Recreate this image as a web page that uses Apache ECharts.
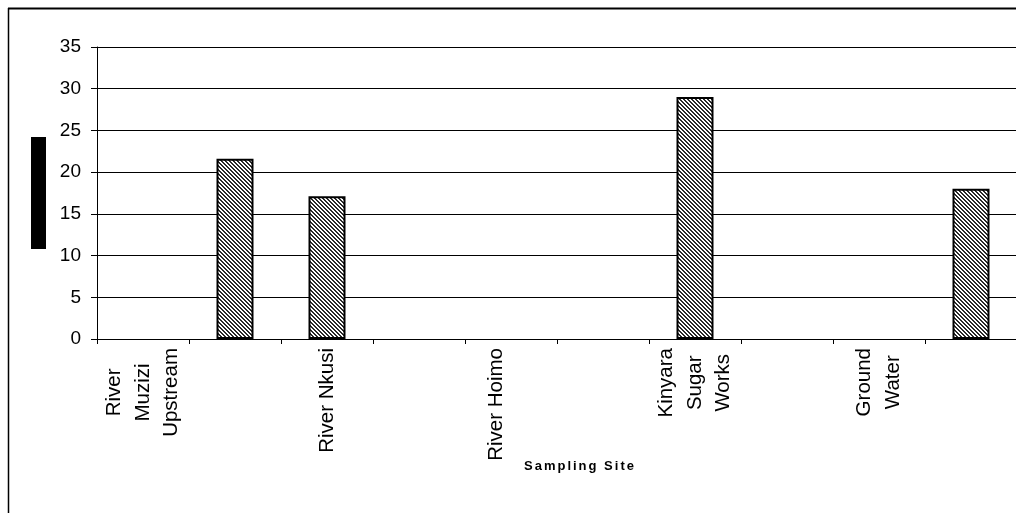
<!DOCTYPE html>
<html>
<head>
<meta charset="utf-8">
<script src="https://cdn.jsdelivr.net/npm/echarts@6/dist/echarts.min.js"></script>
<style>
  html, body { margin: 0; padding: 0; background: #fff; }
  #chart { width: 1016px; height: 513px; }
</style>
</head>
<body>
<div id="chart"></div>
<script>
// Sampling sites (labels are shown on every other slot)
const categories = [
  'River\nMuzizi\nUpstream', '', 'River Nkusi', '', 'River Hoimo\n ',
  '', 'Kinyara\nSugar\nWorks', '', 'Ground\nWater', ''
];
// Measured values per slot (null = no bar)
const values = [null, 21.6, 17.1, null, null, null, 29.0, null, null, 18.0];
const yTicks = { min: 0, max: 35, interval: 5 };
const xTitle = 'Sampling Site';

const FONT = "'Liberation Sans', Arial, sans-serif";

// Diagonal hatch fill for the bars
function hatchPattern() {
  const c = document.createElement('canvas');
  c.width = 4; c.height = 4;
  const ctx = c.getContext('2d');
  ctx.fillStyle = '#ffffff';
  ctx.fillRect(0, 0, 4, 4);
  ctx.fillStyle = '#2a2a2a';
  for (let y = 0; y < 4; y++) {
    for (let x = 0; x < 4; x++) {
      const d = ((x - y) % 4 + 4) % 4;
      if (d === 0 || d === 1) ctx.fillRect(x, y, 1, 1);
    }
  }
  return { image: c, repeat: 'repeat' };
}

// Letter-spaced title built from rich text fragments
function spaced(text) {
  return text.split('').map(ch => '{s|' + ch + '}').join('');
}

const chart = echarts.init(document.getElementById('chart'), null, { renderer: 'canvas' });

chart.setOption({
  animation: false,
  backgroundColor: '#ffffff',
  grid: { left: 97, right: -1, top: 47, bottom: 174, containLabel: false, outerBoundsMode: 'none' },
  xAxis: {
    type: 'category',
    data: categories,
    boundaryGap: true,
    axisLine: { show: true, lineStyle: { color: '#000', width: 1 } },
    axisTick: { show: true, length: 5, interval: 0, alignWithLabel: false, lineStyle: { color: '#000' } },
    axisLabel: {
      interval: 0,
      rotate: 90,
      margin: 9,
      color: '#000',
      fontFamily: FONT,
      fontSize: 20.5,
      lineHeight: 28.5,
      formatter: function (v) {
        if (!v) return '';
        return v.split('\n').map(l => '{c|' + l + '}').join('\n');
      },
      rich: {
        c: { align: 'center', fontFamily: FONT, fontSize: 20.5, lineHeight: 28.5, color: '#000' }
      }
    },
    splitLine: { show: false }
  },
  yAxis: {
    type: 'value',
    min: yTicks.min,
    max: yTicks.max,
    interval: yTicks.interval,
    axisLine: { show: true, lineStyle: { color: '#000', width: 1 } },
    axisTick: { show: true, length: 6, lineStyle: { color: '#000' } },
    axisLabel: { color: '#000', fontFamily: FONT, fontSize: 19, margin: 16 },
    splitLine: { show: true, lineStyle: { color: '#000', width: 1 } }
  },
  series: [{
    type: 'bar',
    data: values,
    barWidth: 37,
    itemStyle: {
      color: hatchPattern(),
      borderColor: '#000',
      borderWidth: 2
    }
  }],
  graphic: [
    // outer frame
    { type: 'line', shape: { x1: 8.5, y1: 8, x2: 8.5, y2: 513 }, style: { stroke: '#000', lineWidth: 1.5 }, silent: true },
    { type: 'line', shape: { x1: 8, y1: 8.5, x2: 1016, y2: 8.5 }, style: { stroke: '#000', lineWidth: 2 }, silent: true },
    // y-axis title block
    { type: 'rect', shape: { x: 31, y: 137, width: 15, height: 112 }, style: { fill: '#000' }, silent: true },
    // x-axis title
    {
      type: 'text', left: 524, top: 460, silent: true,
      style: {
        text: spaced(xTitle),
        rich: { s: { fontFamily: FONT, fontSize: 13, fontWeight: 'bold', color: '#000', padding: [0, 1, 0, 1] } }
      }
    }
  ]
});
</script>
</body>
</html>
